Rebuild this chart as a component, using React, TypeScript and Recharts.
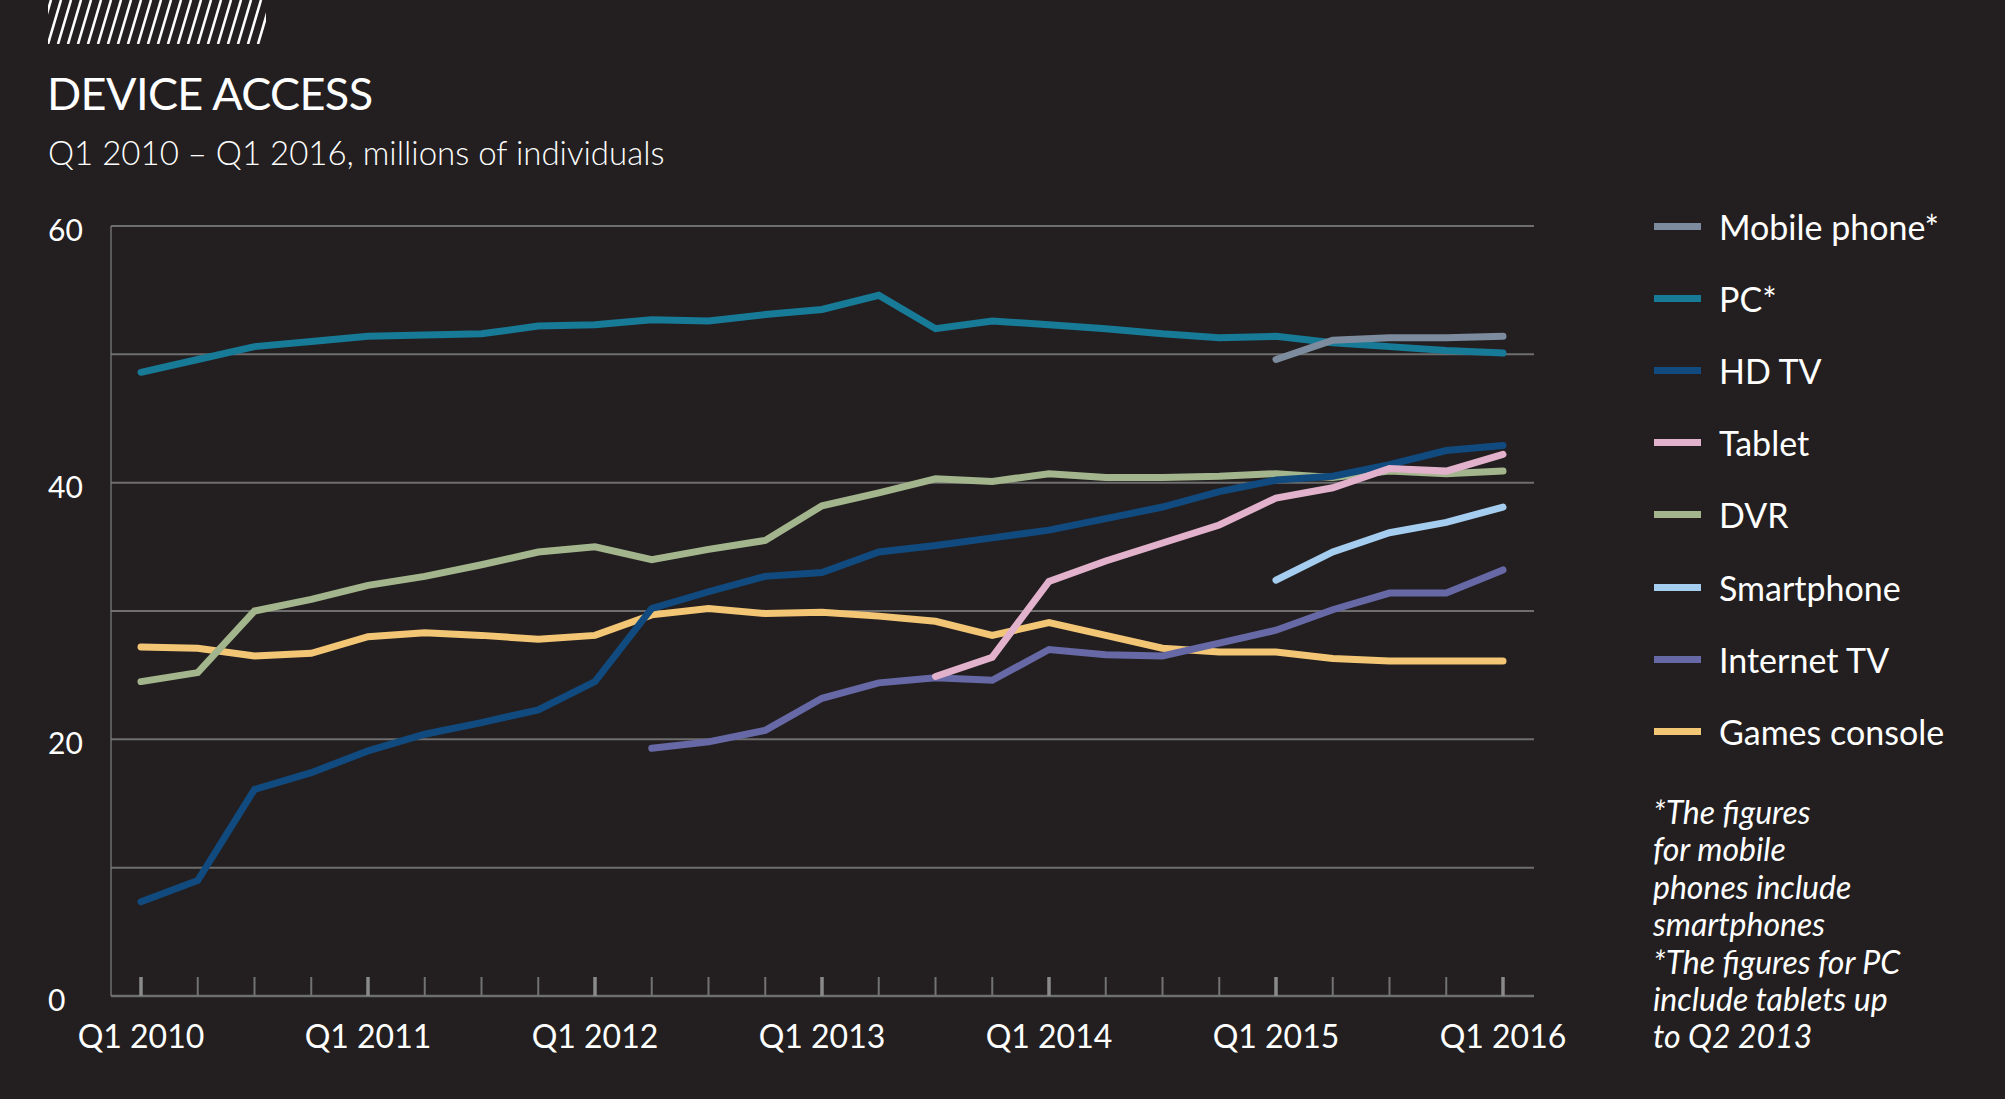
import React from 'react';
import { LineChart, Line, XAxis, YAxis, CartesianGrid, Legend } from 'recharts';

const quarters = [
  'Q1 2010', 'Q2 2010', 'Q3 2010', 'Q4 2010',
  'Q1 2011', 'Q2 2011', 'Q3 2011', 'Q4 2011',
  'Q1 2012', 'Q2 2012', 'Q3 2012', 'Q4 2012',
  'Q1 2013', 'Q2 2013', 'Q3 2013', 'Q4 2013',
  'Q1 2014', 'Q2 2014', 'Q3 2014', 'Q4 2014',
  'Q1 2015', 'Q2 2015', 'Q3 2015', 'Q4 2015',
  'Q1 2016',
];

const _ = null;

const mobilePhone = [_, _, _, _, _, _, _, _, _, _, _, _, _, _, _, _, _, _, _, _, 49.6, 51.1, 51.3, 51.3, 51.4];
const pc = [48.6, 49.6, 50.6, 51.0, 51.4, 51.5, 51.6, 52.2, 52.3, 52.7, 52.6, 53.1, 53.5, 54.6, 52.0, 52.6, 52.3, 52.0, 51.6, 51.3, 51.4, 50.9, 50.6, 50.3, 50.1];
const hdTv = [7.35, 9.0, 16.1, 17.4, 19.1, 20.4, 21.3, 22.3, 24.5, 30.2, 31.5, 32.7, 33.0, 34.6, 35.1, 35.7, 36.3, 37.2, 38.1, 39.3, 40.2, 40.5, 41.4, 42.5, 42.9];
const tablet = [_, _, _, _, _, _, _, _, _, _, _, _, _, _, 24.9, 26.4, 32.3, 33.9, 35.3, 36.7, 38.8, 39.6, 41.1, 40.9, 42.2];
const dvr = [24.5, 25.2, 30.0, 30.9, 32.0, 32.7, 33.6, 34.6, 35.0, 34.0, 34.8, 35.5, 38.2, 39.2, 40.3, 40.1, 40.7, 40.4, 40.4, 40.5, 40.7, 40.4, 40.9, 40.7, 40.9];
const smartphone = [_, _, _, _, _, _, _, _, _, _, _, _, _, _, _, _, _, _, _, _, 32.4, 34.6, 36.1, 36.9, 38.1];
const internetTv = [_, _, _, _, _, _, _, _, _, 19.3, 19.8, 20.7, 23.2, 24.4, 24.8, 24.6, 27.0, 26.6, 26.5, 27.5, 28.5, 30.1, 31.4, 31.4, 33.2];
const gamesConsole = [27.2, 27.1, 26.5, 26.7, 28.0, 28.3, 28.1, 27.8, 28.1, 29.7, 30.2, 29.8, 29.9, 29.6, 29.2, 28.1, 29.1, 28.1, 27.1, 26.8, 26.8, 26.3, 26.1, 26.1, 26.1];

const yTicks = [0, 10, 20, 30, 40, 50, 60];

// legend order as in the reference
const series = [
  { key: 'mobile', name: 'Mobile phone*', color: '#7c8b9e', values: mobilePhone },
  { key: 'pc', name: 'PC*', color: '#177a96', values: pc },
  { key: 'hdtv', name: 'HD TV', color: '#114a7e', values: hdTv },
  { key: 'tablet', name: 'Tablet', color: '#e2b1cb', values: tablet },
  { key: 'dvr', name: 'DVR', color: '#a3b58c', values: dvr },
  { key: 'smart', name: 'Smartphone', color: '#a5cdef', values: smartphone },
  { key: 'itv', name: 'Internet TV', color: '#6669a6', values: internetTv },
  { key: 'games', name: 'Games console', color: '#f3c676', values: gamesConsole },
];

// bottom-to-top drawing order
const drawOrder = ['games', 'itv', 'dvr', 'smart', 'hdtv', 'tablet', 'pc', 'mobile'];

const data = quarters.map((q, i) => {
  const row: Record<string, any> = { quarter: q };
  series.forEach((s) => {
    row[s.key] = s.values[i];
  });
  return row;
});

const FONT = 'Lato, "Source Sans Pro", "Open Sans", sans-serif';
const BG = '#231f20';
const GRID = '#6e6e6e';

const XTick = (props: any) => {
  const { x, y, payload } = props;
  const label: string = payload.value;
  const isQ1 = label.startsWith('Q1');
  return (
    <g>
      <line
        x1={x}
        x2={x}
        y1={y}
        y2={y - 19}
        stroke={isQ1 ? '#8a8a8a' : '#727272'}
        strokeWidth={isQ1 ? 3.5 : 2}
      />
      {isQ1 && (
        <text x={x} y={y + 52} textAnchor="middle" fill="#fff" fontSize={32} fontFamily={FONT}>
          {label}
        </text>
      )}
    </g>
  );
};

const YTick = (props: any) => {
  const { y, payload } = props;
  if (payload.value % 20 !== 0) return <g />;
  return (
    <text x={48} y={y + 15} textAnchor="start" fill="#fff" fontSize={30} fontFamily={FONT}>
      {payload.value}
    </text>
  );
};

const renderLegend = () => (
  <div style={{ fontFamily: FONT }}>
    {series.map((s) => (
      <div key={s.key} style={{ display: 'flex', alignItems: 'center', height: 72.2 }}>
        <div style={{ width: 47, height: 7, background: s.color, marginRight: 18 }} />
        <span style={{ color: '#fff', fontSize: 34, whiteSpace: 'nowrap' }}>{s.name}</span>
      </div>
    ))}
  </div>
);

const Hatch = () => {
  const stripes = [];
  for (let k = -2; k < 24; k++) {
    const x0 = k * 10;
    stripes.push(<line key={k} x1={x0} y1={44} x2={x0 + 13} y2={0} stroke="#fff" strokeWidth={2.6} />);
  }
  return (
    <svg width={218} height={44} style={{ position: 'absolute', left: 48, top: 0 }}>
      <defs>
        <clipPath id="hclip">
          <rect x={0} y={0} width={218} height={44} />
        </clipPath>
      </defs>
      <g clipPath="url(#hclip)">{stripes}</g>
    </svg>
  );
};

export default function App() {
  return (
    <div
      style={{
        position: 'fixed',
        left: 0,
        top: 0,
        width: 2005,
        height: 1099,
        background: BG,
        overflow: 'hidden',
        fontFamily: FONT,
        color: '#fff',
      }}
    >
      <Hatch />
      <div style={{ position: 'absolute', left: 47, top: 66, fontSize: 45, fontWeight: 400, letterSpacing: -0.6, whiteSpace: 'nowrap' }}>
        DEVICE ACCESS
      </div>
      <div style={{ position: 'absolute', left: 48, top: 132, fontSize: 33, fontWeight: 300, whiteSpace: 'nowrap' }}>
        Q1 2010 – Q1 2016, millions of individuals
      </div>

      <div style={{ position: 'absolute', left: 0, top: 0 }}>
        <LineChart
          width={2005}
          height={1099}
          data={data}
          margin={{ top: 226, right: 471, bottom: 0, left: 48 }}
        >
          <CartesianGrid horizontal vertical={false} stroke={GRID} strokeWidth={2} />
          <XAxis
            dataKey="quarter"
            interval={0}
            padding={{ left: 30, right: 31 }}
            tickLine={false}
            tickSize={0}
            tickMargin={0}
            axisLine={{ stroke: GRID, strokeWidth: 2.5 }}
            tick={<XTick />}
            height={103}
          />
          <YAxis
            domain={[0, 60]}
            ticks={yTicks}
            interval={0}
            width={63}
            tickLine={false}
            axisLine={{ stroke: '#7a7a7a', strokeWidth: 1.3 }}
            tick={<YTick />}
          />
          <Legend
            layout="vertical"
            align="center"
            verticalAlign="middle"
            content={renderLegend}
            wrapperStyle={{ left: 1654, top: 190, width: 340 }}
          />
          {drawOrder.map((k) => {
            const s = series.find((d) => d.key === k)!;
            return (
              <Line
                key={s.key}
                type="linear"
                dataKey={s.key}
                name={s.name}
                stroke={s.color}
                strokeWidth={7}
                strokeLinecap="round"
                dot={false}
                activeDot={false}
                isAnimationActive={false}
              />
            );
          })}
        </LineChart>
      </div>

      <div
        style={{
          position: 'absolute',
          left: 1653,
          top: 793,
          width: 340,
          fontSize: 32,
          lineHeight: '37.4px',
          fontStyle: 'italic',
        }}
      >
        *The figures
        <br />
        for mobile
        <br />
        phones include
        <br />
        smartphones
        <br />
        *The figures for PC
        <br />
        include tablets up
        <br />
        to Q2 2013
      </div>
    </div>
  );
}
